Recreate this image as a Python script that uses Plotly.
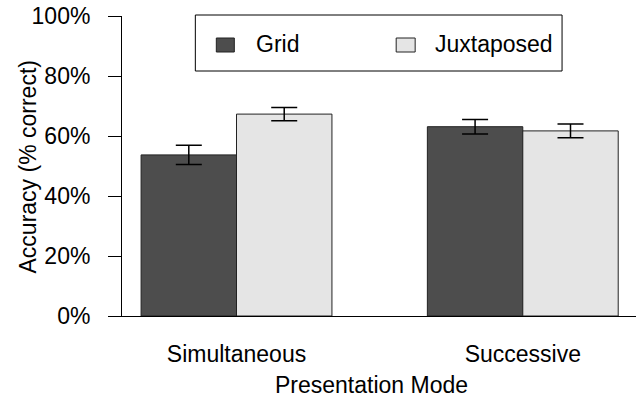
import plotly.graph_objects as go

# ---- data ----
modes = ["Simultaneous", "Successive"]
series_names = ["Grid", "Juxtaposed"]
grid_vals = [0.537, 0.631]
grid_err = [0.032, 0.024]
juxt_vals = [0.673, 0.617]
juxt_err = [0.022, 0.023]
y_ticks = [0, 0.2, 0.4, 0.6, 0.8, 1.0]
y_tick_labels = ["0%", "20%", "40%", "60%", "80%", "100%"]
colors = ["#4d4d4d", "#e5e5e5"]

# R barplot(beside=TRUE) style positions: groups of width 2 separated by 1
grid_x = [1.5 + 3 * i for i in range(len(modes))]
juxt_x = [2.5 + 3 * i for i in range(len(modes))]
group_centers = [2 + 3 * i for i in range(len(modes))]

W, H = 636, 398
ml, mr, mt, mb = 121.6, 0, 16, 82
font = dict(family="Liberation Sans, Arial, sans-serif", size=23, color="black")

fig = go.Figure()
for xs, vals, errs, name, col in [
    (grid_x, grid_vals, grid_err, series_names[0], colors[0]),
    (juxt_x, juxt_vals, juxt_err, series_names[1], colors[1]),
]:
    fig.add_trace(go.Bar(
        x=xs, y=vals, width=1.0, name=name,
        marker=dict(color=col, line=dict(color="#222222", width=1)),
        error_y=dict(type="data", array=errs, visible=True,
                     color="black", thickness=1.5, width=13),
        showlegend=False,
    ))

pw = W - ml - mr
ph = H - mt - mb
def px2paper(px, py):
    return (px - ml) / pw, (H - mb - py) / ph

shapes = []
annotations = []
# legend box
x0, y0 = px2paper(195, 15)
x1, y1 = px2paper(562, 71)
shapes.append(dict(type="rect", xref="paper", yref="paper", x0=x0, y0=y1, x1=x1, y1=y0,
                   line=dict(color="black", width=1), fillcolor="white", layer="above"))
swatches = [(216, 234, 254), (396, 415, 433)]
for (sx0, sx1, tx), name, col in zip(swatches, series_names, colors):
    a0, b0 = px2paper(sx0, 38)
    a1, b1 = px2paper(sx1, 52)
    shapes.append(dict(type="rect", xref="paper", yref="paper", x0=a0, y0=b1, x1=a1, y1=b0,
                       line=dict(color="#222222", width=1), fillcolor=col, layer="above"))
    tx_p, ty_p = px2paper(tx, 44.5)
    annotations.append(dict(text=name, xref="paper", yref="paper", x=tx_p, y=ty_p,
                            xanchor="left", yanchor="middle", showarrow=False, font=font))

# axis titles
ax_p, ay_p = px2paper(371.5, 385)
annotations.append(dict(text="Presentation Mode", xref="paper", yref="paper", x=ax_p, y=ay_p,
                        xanchor="center", yanchor="middle", showarrow=False, font=font))
yx_p, yy_p = px2paper(28, 167)
annotations.append(dict(text="Accuracy (% correct)", xref="paper", yref="paper", x=yx_p, y=yy_p,
                        xanchor="center", yanchor="middle", textangle=-90, showarrow=False, font=font))

x_units = pw / 95.5
fig.update_layout(
    width=W, height=H,
    margin=dict(l=ml, r=mr, t=mt, b=mb, pad=0),
    paper_bgcolor="white", plot_bgcolor="white",
    font=font,
    barmode="overlay",
    shapes=shapes, annotations=annotations,
    xaxis=dict(range=[0.8, 0.8 + x_units], tickvals=group_centers, ticktext=modes,
               showgrid=False, zeroline=False, showline=True, linecolor="black", linewidth=1,
               ticks="", ticklabelstandoff=17, tickfont=font),
    yaxis=dict(range=[0, 1], tickvals=y_ticks, ticktext=y_tick_labels,
               showgrid=False, zeroline=False, showline=True, linecolor="black", linewidth=1,
               ticks="outside", ticklen=13, tickcolor="black", tickwidth=1,
               ticklabelstandoff=13, tickfont=font),
)
fig.write_html("out.html")
